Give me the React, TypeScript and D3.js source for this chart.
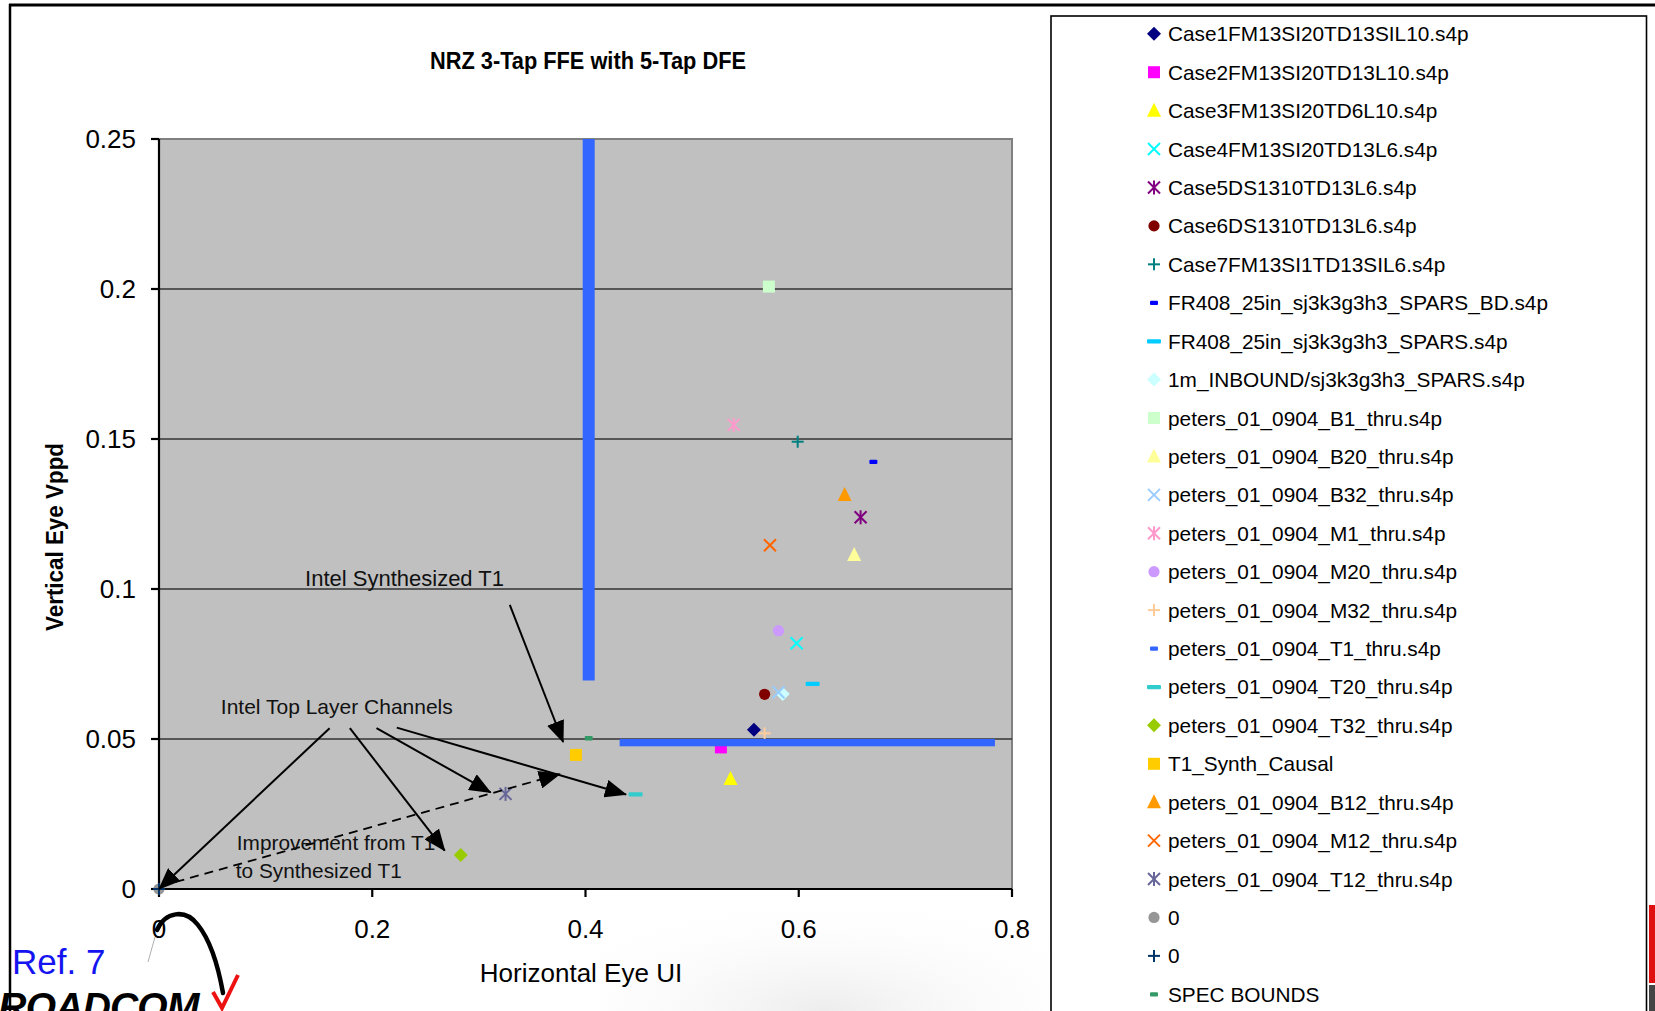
import React from 'react';
import * as d3 from 'd3';

// ---- Data ----
const seriesNames = [
  'Case1FM13SI20TD13SIL10.s4p',
  'Case2FM13SI20TD13L10.s4p',
  'Case3FM13SI20TD6L10.s4p',
  'Case4FM13SI20TD13L6.s4p',
  'Case5DS1310TD13L6.s4p',
  'Case6DS1310TD13L6.s4p',
  'Case7FM13SI1TD13SIL6.s4p',
  'FR408_25in_sj3k3g3h3_SPARS_BD.s4p',
  'FR408_25in_sj3k3g3h3_SPARS.s4p',
  '1m_INBOUND/sj3k3g3h3_SPARS.s4p',
  'peters_01_0904_B1_thru.s4p',
  'peters_01_0904_B20_thru.s4p',
  'peters_01_0904_B32_thru.s4p',
  'peters_01_0904_M1_thru.s4p',
  'peters_01_0904_M20_thru.s4p',
  'peters_01_0904_M32_thru.s4p',
  'peters_01_0904_T1_thru.s4p',
  'peters_01_0904_T20_thru.s4p',
  'peters_01_0904_T32_thru.s4p',
  'T1_Synth_Causal',
  'peters_01_0904_B12_thru.s4p',
  'peters_01_0904_M12_thru.s4p',
  'peters_01_0904_T12_thru.s4p',
  '0',
  '0',
  'SPEC BOUNDS',
];
const seriesX = [0.558, 0.527, 0.536, 0.598, 0.658, 0.568, 0.599, 0.670, 0.613, 0.585, 0.572, 0.652, 0.581, 0.539, 0.581, 0.568, 0, 0.447, 0.283, 0.391, 0.643, 0.573, 0.325, 0, 0, 0.403];
const seriesY = [0.0531, 0.0472, 0.0367, 0.0819, 0.1239, 0.0649, 0.1491, 0.1424, 0.0684, 0.065, 0.2008, 0.1113, 0.0656, 0.1547, 0.0861, 0.0519, 0, 0.0316, 0.0113, 0.0447, 0.1313, 0.1146, 0.0317, 0, 0, 0.0503];
const seriesShapes = ['diamond', 'square', 'triangle', 'x', 'star', 'circle', 'plus', 'dash', 'longdash', 'diamond', 'square', 'triangle', 'x', 'star', 'circle', 'plus', 'dash', 'longdash', 'diamond', 'square', 'triangle', 'x', 'star', 'circle', 'plus', 'dash'];
const seriesColors = ['#000080', '#FF00FF', '#FFFF00', '#00FFFF', '#800080', '#800000', '#008080', '#0000FF', '#00CCFF', '#CCFFFF', '#CCFFCC', '#FFFF99', '#99CCFF', '#FF99CC', '#CC99FF', '#FFCC99', '#3366FF', '#33CCCC', '#99CC00', '#FFCC00', '#FF9900', '#FF6600', '#666699', '#969696', '#003366', '#339966'];

const xTicks = [0, 0.2, 0.4, 0.6, 0.8];
const yTicks = [0, 0.05, 0.1, 0.15, 0.2, 0.25];
const yGrid = [0.05, 0.1, 0.15, 0.2];

// spec bound bars (data units)
const specVertical = [0.403, 0.0695, 0.25]; // x, y0, y1
const specHorizontal = [0.0488, 0.432, 0.784]; // y, x0, x1

// annotation arrows [x0, y0, x1, y1] in data units
const arrowsSolid = [
  [0.329, 0.0947, 0.379, 0.049],
  [0.160, 0.0536, 0.0, 0.0],
  [0.179, 0.0536, 0.268, 0.0128],
  [0.204, 0.0536, 0.311, 0.0322],
  [0.223, 0.0538, 0.438, 0.0315],
];
const arrowDashed = [0.002, 0.001, 0.376, 0.0383];
const annotationTexts = ['Intel Synthesized T1', 'Intel Top Layer Channels', 'Improvement from T1', 'to Synthesized T1'];
const annotationX = [0.137, 0.058, 0.073, 0.072];
const annotationY = [0.1035, 0.0608, 0.0155, 0.0063];
const annotationSize = [22, 21, 20.8, 20.8];

const W = 1655;
const H = 1011;
const FONT = "'Liberation Sans', Arial, Helvetica, sans-serif";
const NARROW = "'Liberation Sans Narrow', 'Arial Narrow', 'Liberation Sans', Arial, sans-serif";

function Marker({ shape, color, cx, cy }: { shape: string; color: string; cx: number; cy: number }) {
  switch (shape) {
    case 'diamond':
      return <path d={`M${cx},${cy - 7}L${cx + 7},${cy}L${cx},${cy + 7}L${cx - 7},${cy}Z`} fill={color} />;
    case 'square':
      return <rect x={cx - 6} y={cy - 6} width={12} height={12} fill={color} />;
    case 'triangle':
      return <path d={`M${cx},${cy - 8}L${cx + 7},${cy + 6}L${cx - 7},${cy + 6}Z`} fill={color} />;
    case 'circle':
      return <circle cx={cx} cy={cy} r={5.6} fill={color} />;
    case 'x':
      return (
        <g stroke={color} strokeWidth={2}>
          <line x1={cx - 6} y1={cy - 6} x2={cx + 6} y2={cy + 6} />
          <line x1={cx - 6} y1={cy + 6} x2={cx + 6} y2={cy - 6} />
        </g>
      );
    case 'star':
      return (
        <g stroke={color} strokeWidth={2}>
          <line x1={cx - 6} y1={cy - 6} x2={cx + 6} y2={cy + 6} />
          <line x1={cx - 6} y1={cy + 6} x2={cx + 6} y2={cy - 6} />
          <line x1={cx} y1={cy - 7} x2={cx} y2={cy + 7} />
        </g>
      );
    case 'plus':
      return (
        <g stroke={color} strokeWidth={2}>
          <line x1={cx - 6} y1={cy} x2={cx + 6} y2={cy} />
          <line x1={cx} y1={cy - 6} x2={cx} y2={cy + 6} />
        </g>
      );
    case 'dash':
      return <rect x={cx - 4} y={cy - 2} width={8} height={4.3} rx={1} fill={color} />;
    case 'longdash':
      return <rect x={cx - 7} y={cy - 2} width={14} height={4.3} rx={1} fill={color} />;
    default:
      return null;
  }
}

export default function App() {
  const left = 159, right = 1012, top = 139, bottom = 889;
  const x = d3.scaleLinear().domain([0, 0.8]).range([left, right]);
  const y = d3.scaleLinear().domain([0, 0.25]).range([bottom, top]);

  const legendTop = 33.8;
  const legendStep = 38.42;

  return (
    <svg width={W} height={H} style={{ position: 'absolute', left: 0, top: 0, background: '#fff' }}>
      <defs>
        <marker id="ah" viewBox="0 0 22 18" refX="21" refY="9" markerWidth="22" markerHeight="18" markerUnits="userSpaceOnUse" orient="auto">
          <path d="M0,0 L22,9 L0,18 Z" fill="#000" />
        </marker>
        <radialGradient id="bgfade" cx="0.5" cy="1" r="0.7">
          <stop offset="0" stopColor="#e8e8e8" stopOpacity="0.8" />
          <stop offset="1" stopColor="#ffffff" stopOpacity="0" />
        </radialGradient>
      </defs>

      {/* faint slide background */}
      <rect x={0} y={0} width={W} height={H} fill="#fff" />
      <rect x={600} y={840} width={450} height={171} fill="url(#bgfade)" />

      {/* outer frame */}
      <line x1={9} y1={5} x2={W} y2={5} stroke="#000" strokeWidth={3} />
      <line x1={10} y1={4} x2={10} y2={H} stroke="#000" strokeWidth={2.5} />

      {/* title */}
      <text x={588} y={60} textAnchor="middle" dominantBaseline="central" fontFamily={NARROW} fontWeight="bold" fontSize={24} textLength={316} lengthAdjust="spacingAndGlyphs">
        NRZ 3-Tap FFE with 5-Tap DFE
      </text>

      {/* plot area */}
      <rect x={left} y={top} width={right - left} height={bottom - top} fill="#C0C0C0" stroke="#808080" strokeWidth={2} />
      {yGrid.map((v) => (
        <line key={v} x1={left} x2={right} y1={y(v)} y2={y(v)} stroke="#333" strokeWidth={1.4} />
      ))}

      {/* axes */}
      <line x1={left} x2={left} y1={top} y2={bottom} stroke="#000" strokeWidth={2.2} />
      <line x1={left} x2={right} y1={bottom} y2={bottom} stroke="#000" strokeWidth={2.2} />
      {yTicks.map((v) => (
        <g key={'yt' + v}>
          <line x1={left - 8} x2={left} y1={y(v)} y2={y(v)} stroke="#000" strokeWidth={2.2} />
          <text x={136} y={y(v)} textAnchor="end" dominantBaseline="central" fontFamily={FONT} fontSize={26}>
            {String(v)}
          </text>
        </g>
      ))}
      {xTicks.map((v) => (
        <g key={'xt' + v}>
          <line x1={x(v)} x2={x(v)} y1={bottom} y2={bottom + 8} stroke="#000" strokeWidth={2.2} />
          <text x={x(v)} y={929} textAnchor="middle" dominantBaseline="central" fontFamily={FONT} fontSize={26}>
            {String(v)}
          </text>
        </g>
      ))}

      {/* axis titles */}
      <text x={581} y={973} textAnchor="middle" dominantBaseline="central" fontFamily={FONT} fontSize={26}>
        Horizontal Eye UI
      </text>
      <text transform={`translate(55,537) rotate(-90)`} textAnchor="middle" dominantBaseline="central" fontFamily={NARROW} fontWeight="bold" fontSize={23} textLength={188} lengthAdjust="spacingAndGlyphs">
        Vertical Eye  Vppd
      </text>

      {/* data points */}
      {seriesNames.map((n, i) => (
        <Marker key={'p' + i} shape={seriesShapes[i]} color={seriesColors[i]} cx={x(seriesX[i])} cy={y(seriesY[i])} />
      ))}

      {/* spec bound bars */}
      <rect x={x(specVertical[0]) - 6} y={y(specVertical[2])} width={12} height={y(specVertical[1]) - y(specVertical[2])} fill="#3366FF" />
      <rect x={x(specHorizontal[1])} y={y(specHorizontal[0]) - 3.7} width={x(specHorizontal[2]) - x(specHorizontal[1])} height={7.4} fill="#3366FF" />

      {/* annotations */}
      {arrowsSolid.map((a, i) => (
        <line key={'a' + i} x1={x(a[0])} y1={y(a[1])} x2={x(a[2])} y2={y(a[3])} stroke="#000" strokeWidth={2} markerEnd="url(#ah)" />
      ))}
      <line x1={x(arrowDashed[0])} y1={y(arrowDashed[1])} x2={x(arrowDashed[2])} y2={y(arrowDashed[3])} stroke="#000" strokeWidth={1.8} strokeDasharray="9,6" markerEnd="url(#ah)" />
      {annotationTexts.map((t, i) => (
        <text key={'t' + i} x={x(annotationX[i])} y={y(annotationY[i])} dominantBaseline="central" fontFamily={FONT} fontSize={annotationSize[i]} fill="#111">
          {t}
        </text>
      ))}

      {/* legend */}
      <rect x={1051} y={16} width={595.5} height={1100} fill="#fff" stroke="#000" strokeWidth={1.6} />
      {seriesNames.map((n, i) => {
        const ly = legendTop + i * legendStep;
        return (
          <g key={'l' + i}>
            <Marker shape={seriesShapes[i]} color={seriesColors[i]} cx={1154} cy={ly} />
            <text x={1168} y={ly} dominantBaseline="central" fontFamily={FONT} fontSize={20.8} fill="#000">
              {n}
            </text>
          </g>
        );
      })}

      {/* right edge background fragment */}
      <rect x={1649} y={905} width={6} height={78} fill="#e01010" />
      <rect x={1649} y={985} width={6} height={26} fill="#444" />

      {/* bottom-left logo fragments */}
      <text x={12} y={961} dominantBaseline="central" fontFamily={FONT} fontSize={35} fill="#1414F0">
        Ref. 7
      </text>
      <line x1={155} y1={937} x2={148} y2={962} stroke="#999" strokeWidth={0.8} />
      <path d="M157,930 C165,912 185,908 198,925 C210,940 218,965 223,993" fill="none" stroke="#000" strokeWidth={4.5} strokeLinecap="round" />
      <path d="M213,992 L222,1008 L238,975" fill="none" stroke="#ee1111" strokeWidth={4} />
      <text x={-29} y={1020} fontFamily={FONT} fontWeight="900" fontStyle="italic" fontSize={39} fill="#000" letterSpacing={-0.8}>
        BROADCOM.
      </text>
    </svg>
  );
}
